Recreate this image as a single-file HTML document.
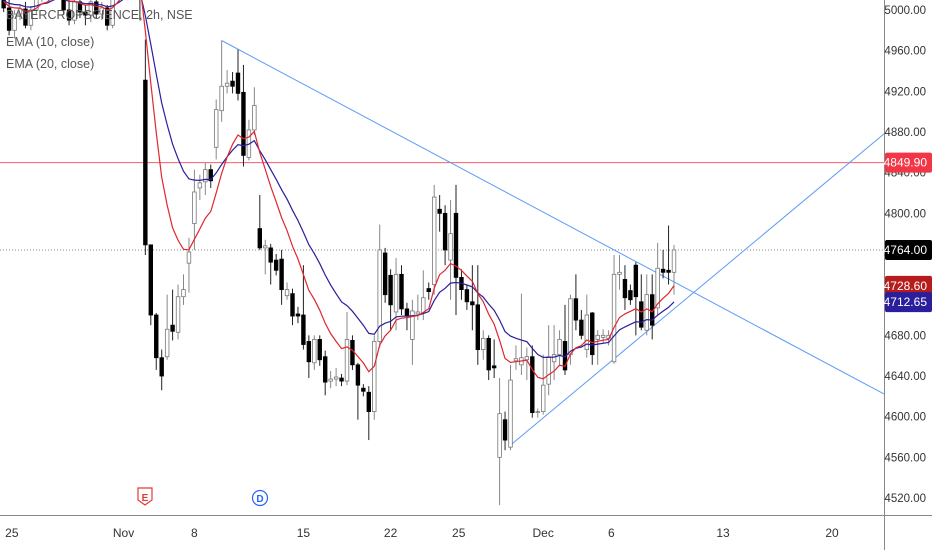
<!DOCTYPE html>
<html><head><meta charset="utf-8"><style>
html,body{margin:0;padding:0;background:#fff;}
svg{display:block;font-family:"Liberation Sans",sans-serif;}
</style></head><body>
<svg id="chart" width="932" height="550" viewBox="0 0 932 550" xmlns="http://www.w3.org/2000/svg">
<g id="grid"></g>
<g id="lines"></g>
<g id="candles"></g>
<g id="emas"></g>
<g id="axes"></g>
</svg>
<script>
const opens=[5025,5002,4980,4996,5001,4985,5000,5015,5025,5015,5035,5030,5000,4990,5008,4998,4995,5008,4996,5002,4985,5012,5035,5045,5050,5038,
4931,4769,4700,4658,4659,4690,4683,4718,4751,4790,4825,4831,4843,4865,4901,4925,4930,4938,4919,4855,4882,4785,4766,4766,4754,4755,4719,4721,4701,4700,4674,4653,4676,4659,4635,4637,4638,4635,4675,4651,4628,4624,4605,4674,4761,4739,4703,4740,4706,4676,4701,4702,4726,4730,4804,4800,4754,4800,4737,4725,4713,4710,4666,4677,4650,4560,4597,4570,4655,4651,4656,4659,4604,4605,4632,4654,4661,4674,4661,4716,4695,4666,4702,4676,4678,4677,4654,4740,4735,4724,4749,4713,4685,4720,4707,4745,4744,4742];
const highs=[5035,5010,5000,5005,5008,5004,5020,5030,5032,5040,5050,5038,5010,5012,5015,5005,5012,5011,5008,5005,5015,5040,5055,5060,5058,5045,
4971,4769,4702,4666,4720,4725,4730,4740,4776,4843,4838,4850,4848,4912,4970,4941,4939,4961,4946,4892,4924,4818,4774,4770,4760,4764,4732,4726,4708,4749,4680,4680,4680,4665,4645,4648,4642,4703,4680,4653,4632,4630,4680,4789,4766,4745,4756,4749,4712,4715,4720,4744,4732,4828,4818,4808,4813,4828,4745,4730,4749,4749,4685,4680,4676,4638,4605,4651,4670,4721,4668,4670,4608,4661,4690,4690,4685,4710,4720,4740,4705,4720,4703,4685,4686,4685,4759,4759,4749,4730,4752,4740,4740,4740,4771,4764,4788,4769];
const lows=[4998,4975,4972,4990,4982,4980,4995,5008,5010,5012,5020,4995,4985,4986,4992,4985,4988,4992,4990,4980,4982,5010,5025,5035,5030,4990,
4759,4690,4646,4626,4656,4675,4676,4710,4722,4764,4813,4818,4825,4853,4890,4918,4918,4911,4846,4852,4877,4764,4740,4730,4739,4710,4715,4690,4692,4666,4638,4646,4650,4621,4628,4630,4630,4631,4646,4597,4620,4577,4597,4668,4712,4685,4685,4700,4685,4651,4695,4695,4715,4720,4782,4749,4715,4700,4715,4705,4685,4651,4656,4636,4638,4513,4567,4567,4646,4641,4636,4599,4599,4602,4621,4636,4651,4641,4651,4685,4676,4658,4651,4651,4672,4670,4652,4725,4705,4710,4680,4685,4680,4676,4700,4736,4730,4720];
const closes=[5002,4980,4996,5001,4985,5000,5015,5025,5015,5035,5030,5000,4990,5008,4998,4995,5008,4996,5002,4985,5012,5035,5045,5050,5038,5030,
4769,4700,4658,4640,4686,4684,4718,4725,4762,4821,4830,4843,4832,4902,4925,4928,4925,4918,4857,4882,4906,4766,4768,4752,4744,4725,4725,4699,4699,4671,4654,4676,4656,4634,4637,4639,4635,4676,4651,4631,4625,4605,4674,4764,4720,4710,4740,4706,4699,4704,4703,4717,4723,4816,4800,4764,4780,4737,4725,4713,4710,4666,4677,4646,4648,4603,4577,4636,4657,4658,4659,4604,4605,4631,4659,4661,4676,4646,4716,4695,4680,4700,4661,4680,4680,4680,4740,4742,4717,4715,4718,4688,4720,4690,4746,4742,4742,4764];
const yTicks=[4520,4560,4600,4640,4680,4720,4760,4800,4840,4880,4920,4960,5000];
const xLabels=["25","Nov","8","15","22","25","Dec","6","13","20"];
const xLabelBars=[1.5,22,35,55,71,83.5,99,111.5,132,152];
const hLevel=4849.90;
const lastPrice=4764.00;
const trendDown=[[40,4970],[119,4744]];
const trendUp=[[93,4572],[123,4706]];

const NS="http://www.w3.org/2000/svg";
const plotR=884, axisY=515;
const yOf=p=>10+(5000-p)*1.0167;
const step=5.45, lastX=674, N=closes.length;
const xOf=i=>lastX-(N-1-i)*step;
function mk(tag,attrs,parent){const e=document.createElementNS(NS,tag);for(const k in attrs)e.setAttribute(k,attrs[k]);parent.appendChild(e);return e;}
const G=id=>document.getElementById(id);

let hl=mk('line',{x1:0,x2:plotR,y1:yOf(hLevel),y2:yOf(hLevel),stroke:'#f23645','stroke-width':1,opacity:0.8},G('lines'));


let lp=mk('line',{x1:0,x2:plotR,y1:yOf(lastPrice),y2:yOf(lastPrice),stroke:'#888','stroke-width':1,'stroke-dasharray':'1 2'},G('lines'));



function trend(t,name){
  const [a,b]=t;const x1=xOf(a[0]),y1=yOf(a[1]),x2=xOf(b[0]),y2=yOf(b[1]);
  const s=(y2-y1)/(x2-x1);
  const l=mk('line',{x1:x1,y1:y1,x2:plotR,y2:y1+s*(plotR-x1),stroke:'#5b9cf6','stroke-width':1},G('lines'));
  
  
}
trend(trendDown,'descending-trendline');
trend(trendUp,'ascending-trendline');

for(let i=0;i<N;i++){
  const x=xOf(i),o=opens[i],c=closes[i],up=c>=o;
  const g=mk('g',{},G('candles'));
  
  
  mk('line',{x1:x,x2:x,y1:yOf(highs[i]),y2:yOf(lows[i]),stroke:up?'#888':'#222','stroke-width':1},g);
  const top=yOf(Math.max(o,c)),h=Math.max(1,yOf(Math.min(o,c))-top);
  mk('rect',{x:x-1.8,y:top,width:3.6,height:h,fill:up?'#fff':'#000',stroke:up?'#777':'#000','stroke-width':0.8},g);
}

function ema(n,seed){const k=2/(n+1);let e=seed;return closes.map(c=>(e=c*k+e*(1-k)));}
const e10=ema(10,5010),e20=ema(20,5010);
function path(arr,col,name){
  const d=arr.map((v,i)=>(i?'L':'M')+xOf(i).toFixed(1)+' '+yOf(v).toFixed(1)).join('');
  const p=mk('path',{d:d,fill:'none',stroke:col,'stroke-width':1.2},G('emas'));
  
  
}
path(e20,'#2a1e9c','ema-20-line');
path(e10,'#e0262e','ema-10-line');

const ax=G('axes');
let bg=mk('rect',{x:plotR,y:0,width:48,height:550,fill:'#fff'},ax);


mk('rect',{x:0,y:axisY,width:932,height:35,fill:'#fff'},ax);
mk('line',{x1:plotR+0.5,x2:plotR+0.5,y1:0,y2:550,stroke:'#888'},ax);
mk('line',{x1:0,x2:932,y1:axisY+0.5,y2:axisY+0.5,stroke:'#888'},ax);
yTicks.forEach(t=>{
  const tx=mk('text',{x:926,y:yOf(t)+4,'text-anchor':'end','font-size':11.5,fill:'#333'},ax);
  tx.textContent=t.toFixed(2);
  
  
});
xLabels.forEach((l,i)=>{
  const tx=mk('text',{x:xOf(xLabelBars[i]),y:537,'text-anchor':'middle','font-size':12,fill:'#333'},ax);
  tx.textContent=l;
  
  
});
function badge(v,bgc,name){
  const y=yOf(v);
  const r=mk('rect',{x:plotR+1,y:y-10,width:47,height:20,fill:bgc,rx:2},ax);
  
  
  const t=mk('text',{x:927,y:y+4,'text-anchor':'end','font-size':12,fill:'#fff'},ax);
  t.textContent=v.toFixed(2);
}
badge(hLevel,'#f23645','level-price-badge');
badge(lastPrice,'#000','last-price-badge');
badge(4728.60,'#b71c1c','ema10-badge');
badge(4712.65,'#2a1e9c','ema20-badge');

const lg=[["BAYERCROPSCIENCE, 2h, NSE",19],["EMA (10, close)",46],["EMA (20, close)",68]];
lg.forEach((l,i)=>{
  const t=mk('text',{x:6,y:l[1],'font-size':12.5,fill:'#555'},ax);
  t.textContent=l[0];
  
  
});

const em=mk('g',{},ax);


mk('path',{d:'M138 488 h14 v12 l-7 5 l-7 -5 z',fill:'#fff',stroke:'#e53935','stroke-width':1.2},em);
let et=mk('text',{x:145,y:501,'text-anchor':'middle','font-size':10,fill:'#e53935','font-weight':'bold'},em);et.textContent='E';
const dm=mk('g',{},ax);


mk('circle',{cx:260,cy:498,r:7.5,fill:'#fff',stroke:'#2962ff','stroke-width':1.2},dm);
let dt=mk('text',{x:260,y:502,'text-anchor':'middle','font-size':10,fill:'#2962ff','font-weight':'bold'},dm);dt.textContent='D';
</script>
</body></html>
